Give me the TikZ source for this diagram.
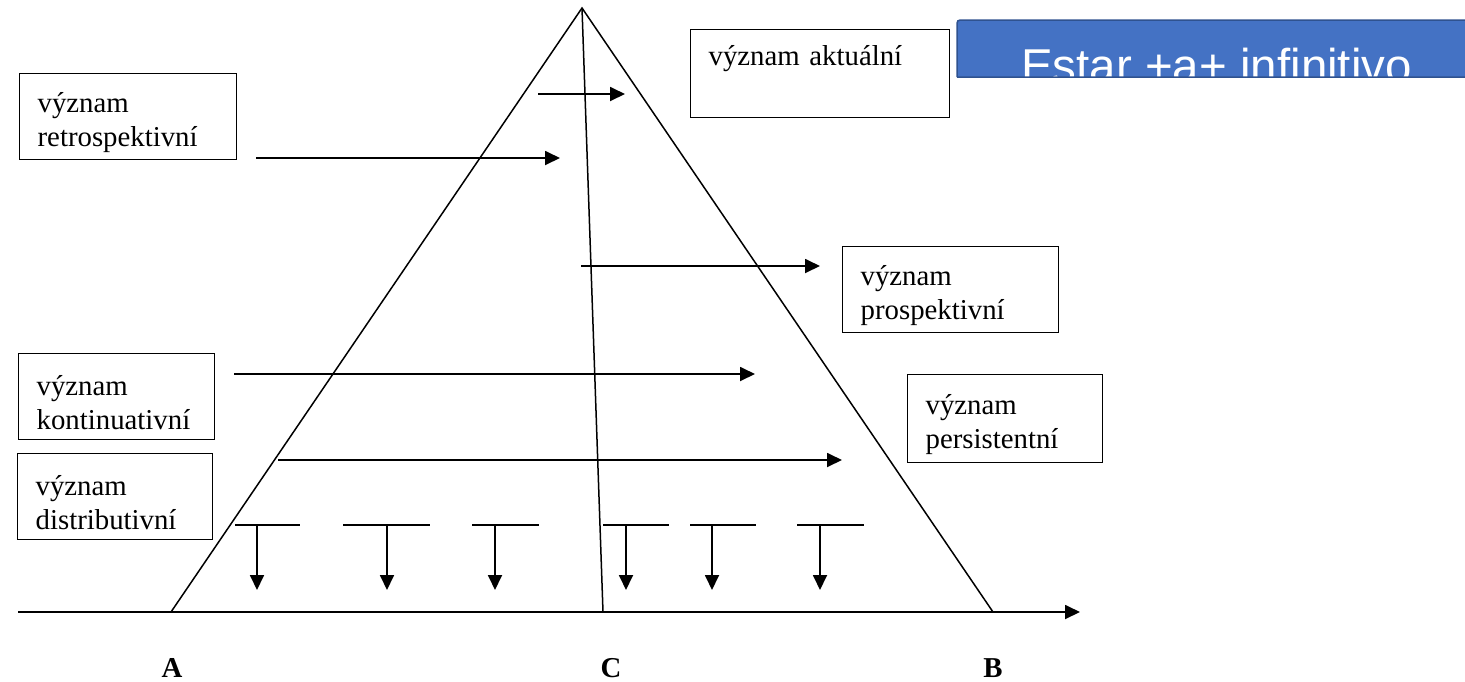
\documentclass[tikz,border=0pt]{standalone}
\usepackage{fontspec}
\setmainfont{Liberation Serif}
\newfontfamily\slidefont{Liberation Sans}
\usetikzlibrary{arrows.meta}
\definecolor{slideblue}{HTML}{4472C4}
\definecolor{slideedge}{HTML}{2F528F}
\newcommand{\firstline}{\rule{0pt}{31pt}}
\tikzset{
  meaning/.style={draw,line width=1.3pt,anchor=north west,align=left,inner xsep=18pt,
    font=\fontsize{28.8}{34}\selectfont},
  arr/.style={-{Triangle[length=15pt,width=14pt]},line width=1.8pt},
  point/.style={font=\fontsize{28.8}{34}\selectfont\bfseries,anchor=base,inner sep=0pt}
}
\begin{document}
\begin{tikzpicture}[x=1pt,y=-1pt]
\useasboundingbox (0,0) rectangle (1465,681);
\fill[slideblue] (957,77) -- (957,27) .. controls (957,20) .. (964,20) -- (1470,20) -- (1470,77) -- cycle;
\begin{scope}
\clip (957,77) -- (957,27) .. controls (957,20) .. (964,20) -- (1470,20) -- (1470,77) -- cycle;
\node[anchor=base west,inner sep=0pt,text=white,font=\slidefont\fontsize{47.5}{50}\selectfont] (title) at (1021,82) {Estar +a+ infinitivo};
\end{scope}
\draw[slideedge,line width=1.5pt] (957,77) -- (957,27) .. controls (957,20) .. (964,20) -- (1470,20) (957,77) -- (1470,77);
\coordinate (apex) at (582,8);
\coordinate (A) at (171,612);
\coordinate (B) at (993,612);
\coordinate (C) at (603,612);
\draw[line width=1.5pt] (A) -- (apex) -- (B);
\draw[line width=1.5pt] (apex) -- (C);
\coordinate (axisstart) at (18,612);
\coordinate (axisend) at (1080,612);
\draw[arr] (axisstart) -- (axisend);
\node[point] (labA) at (172,677) {A};
\node[point] (labC) at (611,677) {C};
\node[point] (labB) at (993,677) {B};
\node[meaning,text width=223pt,text height=25pt,text depth=41pt,inner ysep=11pt] (aktualni) at (690,29) {význam aktuální};
\node[meaning,text width=181pt,minimum height=86pt] (retro) at (19,73) {\firstline význam\\retrospektivní};
\node[meaning,text width=180pt,minimum height=86pt] (prosp) at (842,246) {\firstline význam\\prospektivní};
\node[meaning,text width=159pt,minimum height=88pt] (persist) at (907,374) {\firstline význam\\persistentní};
\node[meaning,text width=160pt,minimum height=86pt] (kontin) at (18,353) {\firstline význam\\kontinuativní};
\node[meaning,text width=159pt,minimum height=86pt] (distrib) at (17,453) {\firstline význam\\distributivní};
\foreach \xa/\xb/\y [count=\i] in {538/625/94,256/560/158,581/820/266,234/755/374,278/842/460} {
  \coordinate (s\i) at (\xa,\y);
  \coordinate (e\i) at (\xb,\y);
  \draw[arr] (s\i) -- (e\i);
}
\foreach \l/\r/\x [count=\i] in {235/300/257,343/430/387,472/539/495,603/669/626,690/756/712,797/864/820} {
  \draw[line width=1.5pt] (\l,525) -- (\r,525);
  \coordinate (t\i) at (\x,525);
  \coordinate (b\i) at (\x,590);
  \draw[arr] (t\i) -- (b\i);
}
\end{tikzpicture}
\end{document}
